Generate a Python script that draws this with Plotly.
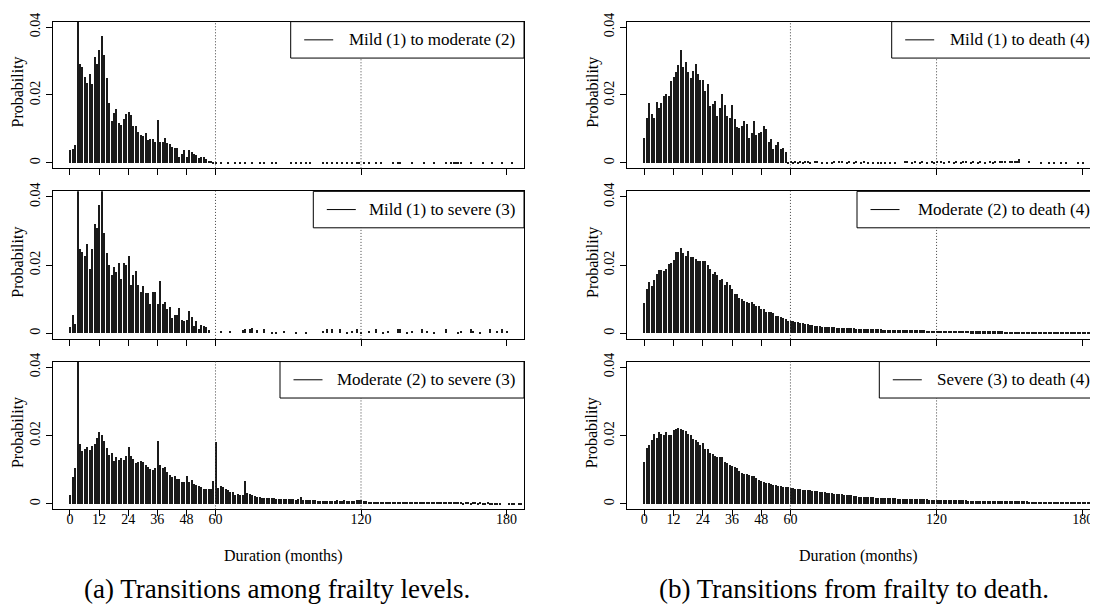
import plotly.graph_objects as go

# ---------------- data (probability by duration in months) ----------------
months_ticks = [0, 12, 24, 36, 48, 60, 120, 180]
ytick_vals = [0, 0.02, 0.04]
ytick_text = ["0", "0.02", "0.04"]

# Mild (1) to moderate (2): months 0..60 then sparse tail
mild_mod = [0.0039, 0.0043, 0.0053, 0.05, 0.0291, 0.0283, 0.0254, 0.0237, 0.0263, 0.0233,
            0.0313, 0.0291, 0.0333, 0.0376, 0.032, 0.025, 0.0177, 0.0123, 0.0147, 0.0159,
            0.0118, 0.0113, 0.0129, 0.0144, 0.015, 0.0142, 0.011, 0.011, 0.0091, 0.0083,
            0.008, 0.0089, 0.0067, 0.0072, 0.007, 0.0064, 0.0127, 0.0063, 0.0062, 0.0075,
            0.0061, 0.0056, 0.0048, 0.0044, 0.0044, 0.0018, 0.0027, 0.004, 0.0018, 0.0038,
            0.0034, 0.0027, 0.0025, 0.0015, 0.0018, 0.0018, 0.0012, 0.0008, 0.0006, 0.0005, 0.0003]
mild_mod_tail_m = [62, 65, 68, 70, 72, 75, 78, 80, 83, 85, 91, 93, 95, 97, 99, 104, 106, 108, 110,
                   112, 114, 116, 118, 119, 121, 123, 126, 128, 133, 135, 136, 141, 146, 150, 155,
                   157, 158, 159, 160, 161, 165, 170, 174, 178, 182]
mild_mod_tail_v = [0.0003, 0.0003, 0.0003, 0.0003, 0.0003, 0.0003, 0.0003, 0.0003, 0.0003, 0.0003,
                   0.0003, 0.0003, 0.0003, 0.0003, 0.0003, 0.0003, 0.0003, 0.0003, 0.0003, 0.0003,
                   0.0003, 0.0003, 0.0003, 0.0004, 0.0003, 0.0003, 0.0004, 0.0004, 0.0003, 0.0003,
                   0.0003, 0.0003, 0.0003, 0.0003, 0.0003, 0.0003, 0.0003, 0.0003, 0.0003, 0.0003,
                   0.0003, 0.0003, 0.0003, 0.0003, 0.0003]

# Mild (1) to severe (3)
mild_sev = [0.0018, 0.0054, 0.0027, 0.05, 0.0246, 0.0236, 0.0226, 0.0261, 0.0188, 0.0246,
            0.0318, 0.0308, 0.0375, 0.05, 0.0292, 0.0234, 0.02, 0.0169, 0.0194, 0.0178,
            0.0204, 0.0159, 0.0204, 0.02, 0.0226, 0.014, 0.0169, 0.0181, 0.014, 0.0119,
            0.0137, 0.0118, 0.0117, 0.0085, 0.0121, 0.0121, 0.0085, 0.0152, 0.0085, 0.0091,
            0.0072, 0.0075, 0.0043, 0.0054, 0.0054, 0.0073, 0.0039, 0.0036, 0.0038, 0.0065,
            0.0046, 0.0022, 0.0036, 0.0012, 0.0024, 0.002, 0.0017, 0.0008]
mild_sev_tail_m = [62, 66, 71, 72, 74, 75, 77, 80, 83, 85, 88, 93, 97, 104, 106, 108, 111, 114, 116,
                   118, 120, 123, 126, 129, 131, 135, 136, 139, 141, 145, 147, 150, 155, 160, 161,
                   165, 166, 169, 173, 176, 178, 180]
mild_sev_tail_v = [0.0006, 0.0006, 0.0008, 0.0012, 0.0012, 0.0015, 0.0008, 0.0012, 0.0004, 0.0004,
                   0.0006, 0.0004, 0.0004, 0.0006, 0.0012, 0.0012, 0.0012, 0.0004, 0.0006, 0.0012,
                   0.0004, 0.0006, 0.0012, 0.0004, 0.0006, 0.0012, 0.0012, 0.0004, 0.0006, 0.0012,
                   0.0006, 0.0004, 0.0012, 0.0004, 0.0006, 0.0012, 0.0006, 0.0004, 0.0012, 0.0006,
                   0.0012, 0.0006]

# Moderate (2) to severe (3): months 0..186
mod_sev = [0.0027, 0.0079, 0.0105, 0.05, 0.0176, 0.0157, 0.0162, 0.0169, 0.016, 0.0171,
           0.0177, 0.0194, 0.0212, 0.0202, 0.0184, 0.0165, 0.0144, 0.0149, 0.0127, 0.0138,
           0.013, 0.0135, 0.0129, 0.0141, 0.0169, 0.0141, 0.0133, 0.0121, 0.0125, 0.0126,
           0.0125, 0.0114, 0.011, 0.0103, 0.01, 0.0107, 0.0185, 0.0115, 0.0106, 0.011,
           0.0095, 0.0086, 0.0081, 0.0082, 0.0075, 0.0073, 0.0064, 0.0064, 0.0084, 0.0066,
           0.0071, 0.006, 0.0056, 0.0055, 0.0051, 0.0044, 0.0044, 0.0045, 0.0044, 0.0068,
           0.0181, 0.0047, 0.0054, 0.005, 0.0044, 0.0042, 0.0036, 0.0035, 0.0028, 0.0029,
           0.0027, 0.0027, 0.0068, 0.0033, 0.003, 0.0027, 0.0024, 0.0021, 0.0022, 0.002,
           0.0019, 0.0019, 0.0018, 0.0018, 0.0018, 0.0017, 0.0016, 0.0016, 0.0015, 0.0016,
           0.0015, 0.0015, 0.0015, 0.0014, 0.0015, 0.0022, 0.0014, 0.0013, 0.0013, 0.0013,
           0.0012, 0.0012, 0.0011, 0.0011, 0.0011, 0.001, 0.001, 0.001, 0.0011, 0.0011,
           0.0012, 0.0011, 0.0011, 0.0012, 0.0011, 0.0011, 0.001, 0.0011, 0.0012, 0.0013,
           0.0012, 0.0011, 0.0009, 0.0008, 0.0008, 0.0007, 0.0008, 0.0007, 0.0008, 0.0007,
           0.0007, 0.0008, 0.0007, 0.0007, 0.0008, 0.0007, 0.0006, 0.0007, 0.0007, 0.0008,
           0.0007, 0.0006, 0.0007, 0.0007, 0.0006, 0.0007, 0.0007, 0.0006, 0.0007, 0.0006,
           0.0006, 0.0007, 0.0006, 0.0006, 0.0007, 0.0006, 0.0006, 0.0006, 0.0007, 0.0006,
           0.0006, 0.0006, 0.0005, 0.0006, 0.0006, 0.0005, 0.0006, 0.0006, 0.0005, 0.0006,
           0.0005, 0.0005, 0.0006, 0.0005, 0.0005, 0.0005, 0.0005, 0.0005, 0.0, 0.0,
           0.0, 0.0005, 0.0005, 0.0005, 0.0, 0.0005, 0.0005]

# Mild (1) to death (4)
mild_death = [0.0075, 0.0133, 0.0178, 0.0144, 0.0133, 0.0181, 0.0162, 0.0178, 0.0198, 0.0205,
              0.0198, 0.0243, 0.0254, 0.027, 0.0288, 0.0335, 0.0283, 0.0299, 0.027, 0.0251,
              0.0273, 0.0292, 0.0264, 0.0244, 0.0244, 0.0213, 0.0233, 0.017, 0.0175, 0.0182,
              0.014, 0.0163, 0.0204, 0.0171, 0.014, 0.0133, 0.0171, 0.013, 0.0108, 0.0104,
              0.0109, 0.0125, 0.0117, 0.0073, 0.0088, 0.0123, 0.0082, 0.0088, 0.0092, 0.0109,
              0.0102, 0.0062, 0.0072, 0.0043, 0.0053, 0.0062, 0.0043, 0.0046, 0.0033]
mild_death_tail_m = [59, 60, 61, 62, 63, 64, 65, 66, 67, 68, 70, 71, 73, 75, 77, 78, 80, 81, 83, 84,
                     86, 87, 89, 90, 92, 94, 96, 97, 99, 101, 103, 107, 108, 110, 111, 113, 114, 116,
                     118, 119, 120, 122, 123, 125, 127, 128, 130, 131, 132, 134, 135, 137, 138, 140,
                     142, 143, 144, 146, 147, 148, 150, 151, 152, 153, 154, 158, 163, 166, 168, 171,
                     173, 178, 180, 184]
mild_death_tail_v = [0.0005, 0.0006, 0.0005, 0.0006, 0.0005, 0.0006, 0.0005, 0.0006, 0.0007, 0.0005,
                     0.0006, 0.0008, 0.0005, 0.0004, 0.0005, 0.0008, 0.0006, 0.0008, 0.0005, 0.0007,
                     0.0005, 0.0006, 0.0005, 0.0006, 0.0005, 0.0004, 0.0005, 0.0005, 0.0004, 0.0005,
                     0.0004, 0.0006, 0.0007, 0.0005, 0.0006, 0.0005, 0.0006, 0.0005, 0.0006, 0.0005,
                     0.0006, 0.0007, 0.0005, 0.0006, 0.0005, 0.0006, 0.0005, 0.0006, 0.0006, 0.0005,
                     0.0006, 0.0005, 0.0006, 0.0005, 0.0006, 0.0005, 0.0006, 0.0006, 0.0007, 0.0006,
                     0.0006, 0.0007, 0.0006, 0.0008, 0.0012, 0.0007, 0.0005, 0.0004, 0.0005, 0.0004,
                     0.0005, 0.0004, 0.0005, 0.0004]

# Moderate (2) to death (4): months 0..186
mod_death = [0.0088, 0.0128, 0.015, 0.0139, 0.0154, 0.0173, 0.0184, 0.0184, 0.0181, 0.0188,
             0.0202, 0.0204, 0.0214, 0.0237, 0.0236, 0.025, 0.0234, 0.0226, 0.0239, 0.0224,
             0.0222, 0.0216, 0.0212, 0.021, 0.0212, 0.0211, 0.0198, 0.0188, 0.0173, 0.0179,
             0.0169, 0.0154, 0.0158, 0.0142, 0.0149, 0.014, 0.0128, 0.0115, 0.0114, 0.0102,
             0.01, 0.0093, 0.0091, 0.0088, 0.009, 0.0085, 0.0078, 0.0079, 0.0071, 0.0071,
             0.0063, 0.0063, 0.0062, 0.0058, 0.0051, 0.005, 0.0048, 0.0043, 0.0041, 0.0036,
             0.0035, 0.0034, 0.0032, 0.0032, 0.0031, 0.0029, 0.0027, 0.0026, 0.0025, 0.0024,
             0.0022, 0.0022, 0.0021, 0.0019, 0.0019, 0.0018, 0.0017, 0.0017, 0.0017, 0.0016,
             0.0016, 0.0015, 0.0015, 0.0015, 0.0014, 0.0014, 0.0014, 0.0013, 0.0013, 0.0013,
             0.0012, 0.0012, 0.0012, 0.0012, 0.0011, 0.0011, 0.0011, 0.0011, 0.001, 0.001,
             0.001, 0.001, 0.001, 0.0009, 0.0009, 0.0009, 0.0009, 0.0009, 0.0009, 0.0008,
             0.0008, 0.0008, 0.0008, 0.0008, 0.0008, 0.0008, 0.0007, 0.0007, 0.0007, 0.0007,
             0.0007, 0.0007, 0.0007, 0.0007, 0.0006, 0.0006, 0.0006, 0.0006, 0.0006, 0.0006,
             0.0006, 0.0006, 0.0006, 0.0006, 0.0005, 0.0005, 0.0005, 0.0005, 0.0005, 0.0005,
             0.0005, 0.0005, 0.0005, 0.0005, 0.0005, 0.0005, 0.0005, 0.0005, 0.0004, 0.0004,
             0.0004, 0.0004, 0.0004, 0.0004, 0.0004, 0.0004, 0.0004, 0.0004, 0.0004, 0.0004,
             0.0004, 0.0004, 0.0004, 0.0004, 0.0004, 0.0004, 0.0003, 0.0003, 0.0003, 0.0003,
             0.0003, 0.0003, 0.0003, 0.0003, 0.0003, 0.0003, 0.0003, 0.0003, 0.0003, 0.0003,
             0.0003, 0.0003, 0.0003, 0.0003, 0.0003, 0.0003, 0.0003]

# Severe (3) to death (4): months 0..186
sev_death = [0.0124, 0.0166, 0.0174, 0.0187, 0.0205, 0.0195, 0.0212, 0.0207, 0.0202, 0.0212,
             0.0202, 0.0202, 0.0217, 0.0219, 0.0222, 0.0219, 0.0217, 0.0213, 0.0207, 0.0202,
             0.0192, 0.0188, 0.0183, 0.0174, 0.0179, 0.0163, 0.0162, 0.0151, 0.0147, 0.0141,
             0.0139, 0.0137, 0.0137, 0.0124, 0.0121, 0.0116, 0.0113, 0.0108, 0.0105, 0.0097,
             0.0093, 0.0088, 0.0088, 0.0085, 0.0083, 0.0083, 0.0077, 0.0072, 0.0069, 0.0066,
             0.0063, 0.0063, 0.0061, 0.0058, 0.0057, 0.0054, 0.0053, 0.0052, 0.0051, 0.005,
             0.0049, 0.0049, 0.0046, 0.0046, 0.0045, 0.0043, 0.0043, 0.0042, 0.0042, 0.004,
             0.004, 0.0038, 0.0037, 0.0036, 0.0035, 0.0034, 0.0033, 0.0032, 0.0031, 0.0031,
             0.003, 0.0029, 0.0028, 0.0028, 0.0027, 0.0026, 0.0025, 0.0024, 0.0023, 0.0023,
             0.0022, 0.0022, 0.0021, 0.0021, 0.0021, 0.002, 0.002, 0.002, 0.0019, 0.0019,
             0.0019, 0.0018, 0.0018, 0.0018, 0.0017, 0.0017, 0.0017, 0.0017, 0.0016, 0.0016,
             0.0016, 0.0016, 0.0015, 0.0015, 0.0015, 0.0015, 0.0015, 0.0014, 0.0014, 0.0014,
             0.0014, 0.0014, 0.0013, 0.0013, 0.0013, 0.0013, 0.0013, 0.0012, 0.0012, 0.0012,
             0.0012, 0.0012, 0.0012, 0.0011, 0.0011, 0.0011, 0.0011, 0.0011, 0.0011, 0.0011,
             0.001, 0.001, 0.001, 0.001, 0.001, 0.001, 0.001, 0.001, 0.0009, 0.0009,
             0.0009, 0.0009, 0.0009, 0.0009, 0.0009, 0.0009, 0.0009, 0.0009, 0.0008, 0.0008,
             0.0008, 0.0008, 0.0008, 0.0008, 0.0008, 0.0008, 0.0008, 0.0008, 0.0007, 0.0007,
             0.0007, 0.0007, 0.0007, 0.0007, 0.0007, 0.0007, 0.0007, 0.0007, 0.0007, 0.0007,
             0.0006, 0.0006, 0.0006, 0.0006, 0.0006, 0.0006, 0.0006]

labels = ["Mild (1) to moderate (2)", "Mild (1) to death (4)",
          "Mild (1) to severe (3)", "Moderate (2) to death (4)",
          "Moderate (2) to severe (3)", "Severe (3) to death (4)"]

# ---------------- layout helpers ----------------
# the page body adds an 8px margin, so the figure is made smaller and all
# positions below are given in page pixels and shifted by that margin
OFF = 8
FW, FH = 1090, 602
FONT = "Liberation Serif, Times New Roman, DejaVu Serif, serif"


def px(x):
    return (x - OFF) / FW


def py(y):
    return 1 - (y - OFF) / FH


series = [
    (mild_mod, mild_mod_tail_m, mild_mod_tail_v),
    (mild_death, mild_death_tail_m, mild_death_tail_v),
    (mild_sev, mild_sev_tail_m, mild_sev_tail_v),
    (mod_death, [], []),
    (mod_sev, [], []),
    (sev_death, [], []),
]

col_x = [(52.5, 524.0), (626.8, 1098.0)]
col_range = [[-7.2, 187.2], [-7.2, 186.3]]
row_y = [(12.7, 161.6), (185.0, 334.8), (357.8, 507.9)]
legend_left = [290.7, 891.7, 313.3, 857.0, 280.0, 879.3]

fig = go.Figure()
shapes = []
annotations = []

for i in range(6):
    row, col = divmod(i, 2)
    k = i + 1
    sx = "" if k == 1 else str(k)
    dense, tm, tv = series[i]
    xs = list(range(len(dense))) + list(tm)
    ys = list(dense) + list(tv)
    widths = [0.28 if v > 0.04 else 0.52 for v in ys]
    fig.add_trace(go.Bar(x=xs, y=ys, width=widths, marker=dict(color="#1a1a1a", line=dict(width=0)),
                         xaxis="x" + sx, yaxis="y" + sx, showlegend=False, hoverinfo="x+y"))
    x0p, x1p = col_x[col]
    y0p, y1p = row_y[row]
    fig.layout["xaxis" + sx] = dict(
        domain=[px(x0p), min(1.0, px(x1p))], range=col_range[col], anchor="y" + sx,
        tickmode="array", tickvals=months_ticks, showticklabels=(row == 2),
        ticks="outside", ticklen=6, tickwidth=1, tickcolor="black", ticklabelstandoff=-9,
        showline=True, mirror=True, linecolor="black", linewidth=1,
        showgrid=False, zeroline=False,
        tickfont=dict(family=FONT, size=14, color="black"))
    fig.layout["yaxis" + sx] = dict(
        domain=[py(y1p), py(y0p)], range=[-0.0016, 0.0416], anchor="x" + sx,
        tickmode="array", tickvals=ytick_vals, ticktext=ytick_text, tickangle=-90,
        ticks="outside", ticklen=6, tickwidth=1, tickcolor="black",
        showline=True, mirror=(col == 0), linecolor="black", linewidth=1,
        showgrid=False, zeroline=False,
        tickfont=dict(family=FONT, size=14, color="black"))

    # dotted reference lines at 60 and 120 months
    for v in (60, 120):
        shapes.append(dict(type="line", xref="x" + sx, yref="y" + sx + " domain", x0=v, x1=v, y0=0, y1=1,
                           line=dict(color="#444444", width=1, dash="1px,2px"), layer="above"))

    # legend box
    lx0 = legend_left[i]
    lx1 = x1p + (2 if col == 1 else 0)
    ly0 = y0p
    ly1 = y0p + 37
    shapes.append(dict(type="rect", xref="paper", yref="paper", x0=px(lx0), x1=px(lx1),
                       y0=py(ly1), y1=py(ly0), fillcolor="white",
                       line=dict(color="black", width=1), layer="above"))
    ymid = (ly0 + ly1) / 2
    shapes.append(dict(type="line", xref="paper", yref="paper", x0=px(lx0 + 13.5), x1=px(lx0 + 42.5),
                       y0=py(ymid), y1=py(ymid), line=dict(color="black", width=1), layer="above"))
    annotations.append(dict(text=labels[i], xref="paper", yref="paper",
                            x=px((517 if col == 0 else 1091.5)), y=py(ymid),
                            xanchor="right", yanchor="middle", showarrow=False,
                            font=dict(family=FONT, size=17, color="black")))
    # y axis title
    annotations.append(dict(text="Probability", xref="paper", yref="paper",
                            x=px(18 + col_x[col][0] - 52.5), y=py((y0p + y1p) / 2 - 2.5),
                            xanchor="center", yanchor="middle", textangle=-90, showarrow=False,
                            font=dict(family=FONT, size=16, color="black")))

# x axis titles and captions
for cx, cap_x, cap in [(283.7, 277, "(a) Transitions among frailty levels."),
                       (858, 854, "(b) Transitions from frailty to death.")]:
    annotations.append(dict(text="Duration (months)", xref="paper", yref="paper", x=px(cx), y=py(555),
                            xanchor="center", yanchor="middle", showarrow=False,
                            font=dict(family=FONT, size=16, color="black")))
    annotations.append(dict(text=cap, xref="paper", yref="paper", x=px(cap_x), y=py(589),
                            xanchor="center", yanchor="middle", showarrow=False,
                            font=dict(family=FONT, size=27, color="black")))

fig.update_layout(
    width=FW, height=FH, margin=dict(l=0, r=0, t=0, b=0),
    paper_bgcolor="white", plot_bgcolor="white",
    font=dict(family=FONT, color="black"),
    shapes=shapes, annotations=annotations, bargap=0,
)

fig.write_html("out.html")
